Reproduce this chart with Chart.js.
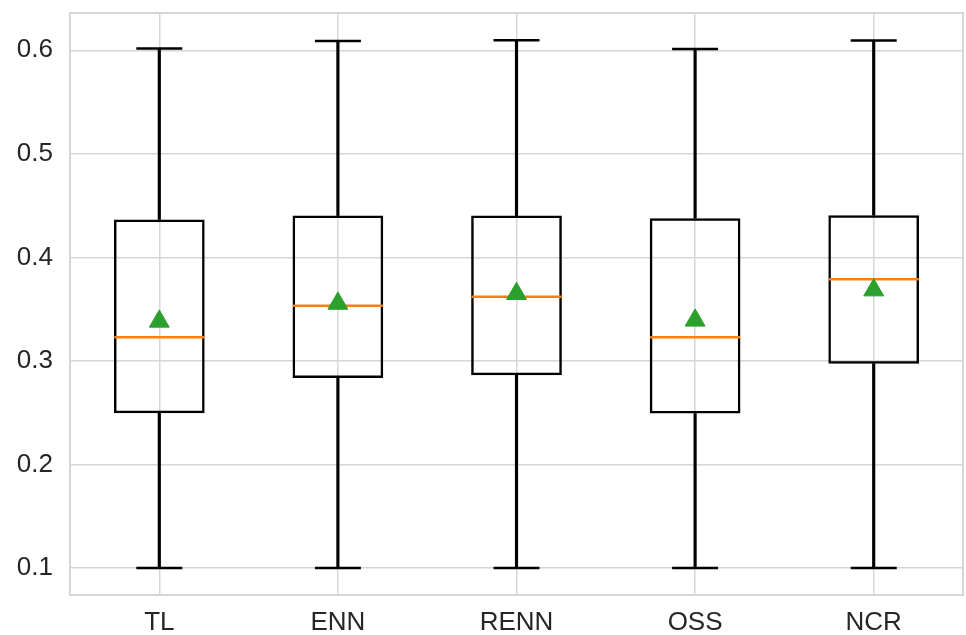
<!DOCTYPE html>
<html>
<head>
<meta charset="utf-8">
<script src="https://cdn.jsdelivr.net/npm/chart.js"></script>
<style>
    html, body { margin: 0; padding: 0; background: #fff; overflow: hidden; }
    canvas { display: block; }
</style>
</head>
<body>
<canvas id="boxChart" width="966" height="635"></canvas>
<script>
    // values
    let methods = ["TL", "ENN", "RENN", "OSS", "NCR"];
    let whiskerLow = [0.1, 0.1, 0.1, 0.1, 0.1];
    let q1 = [0.2495, 0.2835, 0.2861, 0.2492, 0.2974];
    let medians = [0.3228, 0.3533, 0.362, 0.3228, 0.379];
    let q3 = [0.4366, 0.4404, 0.4404, 0.4378, 0.4407];
    let whiskerHigh = [0.6018, 0.609, 0.6098, 0.6012, 0.6095];
    let means = [0.3382, 0.3555, 0.3649, 0.3392, 0.3684];
    let yTicks = [0.1, 0.2, 0.3, 0.4, 0.5, 0.6];

    let boxes = methods.map((m, i) => [q1[i], q3[i]]);
    let upperWhisker = methods.map((m, i) => [q3[i], whiskerHigh[i]]);
    let lowerWhisker = methods.map((m, i) => [whiskerLow[i], q1[i]]);

    const gridColor = "#d6d6d6";
    const textColor = "#262626";

    // light grey frame round the plot area
    const frame = {
        id: "frame",
        beforeDatasetsDraw(chart) {
            let a = chart.chartArea;
            let ctx = chart.ctx;
            ctx.save();
            ctx.strokeStyle = gridColor;
            ctx.lineWidth = 2;
            ctx.strokeRect(a.left, a.top, a.right - a.left, a.bottom - a.top);
            ctx.restore();
        }
    };

    function pointSet(data, style, radius, color, width) {
        return {
            type: "line",
            data: data,
            showLine: false,
            pointStyle: style,
            pointRadius: radius,
            pointHoverRadius: radius,
            pointBorderColor: color,
            pointBackgroundColor: color,
            pointBorderWidth: width
        };
    }

    let ctx = document.getElementById("boxChart").getContext("2d");
    new Chart(ctx, {
        type: "bar",
        data: {
            labels: methods,
            datasets: [
                pointSet(means, "triangle", 11.5, "#2ca02c", 1),
                pointSet(medians, "line", 45, "#ff7f0e", 2.5),
                pointSet(whiskerHigh, "line", 23, "#000", 2.5),
                pointSet(whiskerLow, "line", 23, "#000", 2.5),
                {
                    data: boxes,
                    grouped: false,
                    backgroundColor: "rgba(0,0,0,0)",
                    borderColor: "#000",
                    borderWidth: 2.5,
                    borderSkipped: false,
                    barPercentage: 0.508,
                    categoryPercentage: 1
                },
                {
                    data: upperWhisker,
                    grouped: false,
                    backgroundColor: "#000",
                    borderWidth: 0,
                    barThickness: 2.5
                },
                {
                    data: lowerWhisker,
                    grouped: false,
                    backgroundColor: "#000",
                    borderWidth: 0,
                    barThickness: 2.5
                }
            ]
        },
        options: {
            responsive: false,
            animation: false,
            events: [],
            layout: { autoPadding: false, padding: { top: 13, right: 3, left: 0, bottom: 0 } },
            plugins: {
                legend: { display: false },
                tooltip: { enabled: false }
            },
            scales: {
                x: {
                    offset: true,
                    grid: { color: gridColor, lineWidth: 1.5, offset: false, drawTicks: false },
                    border: { display: false },
                    ticks: {
                        color: textColor,
                        padding: 12,
                        font: { family: "'Liberation Sans', Arial, sans-serif", size: 26 }
                    },
                    afterFit: s => { s.height = 40; s.paddingLeft = 0; s.paddingRight = 0; }
                },
                y: {
                    min: 0.074,
                    max: 0.636,
                    grid: { color: gridColor, lineWidth: 1.5, drawTicks: false },
                    border: { display: false },
                    afterBuildTicks: s => { s.ticks = yTicks.map(v => ({ value: v })); },
                    ticks: {
                        color: textColor,
                        padding: 17,
                        font: { family: "'Liberation Sans', Arial, sans-serif", size: 26 },
                        callback: v => v.toFixed(1)
                    },
                    afterFit: s => { s.width = 70; s.paddingTop = 0; s.paddingBottom = 0; }
                }
            }
        },
        plugins: [frame]
    });
</script>
</body>
</html>
